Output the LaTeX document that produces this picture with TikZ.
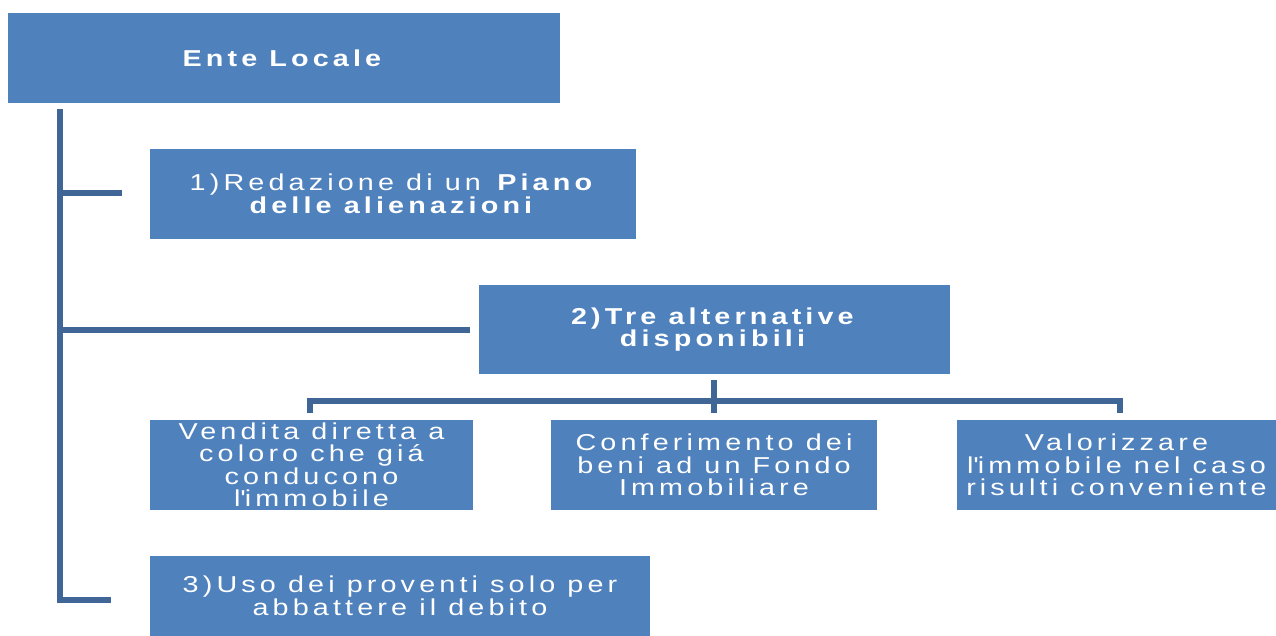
\documentclass[tikz,border=0pt]{standalone}
\usepackage{fontspec}
\setmainfont{Liberation Sans}[LetterSpace=18,FakeStretch=1.25]
\definecolor{boxblue}{HTML}{4F81BD}
\definecolor{linedark}{HTML}{3F6696}
\definecolor{lineshadow}{HTML}{A3B5CF}
\begin{document}
\begin{tikzpicture}[x=1pt,y=-1pt,
  box/.style={fill=boxblue,text=white,align=center,inner sep=0pt,
    font=\fontsize{23}{22.5}\selectfont},
  conn/.style={draw=linedark,line width=6pt},
  connsh/.style={draw=lineshadow,line width=6pt,shift={(2.5pt,-2.5pt)}}]
\useasboundingbox (0,0) rectangle (1276,636);
% boxes
\node[box,minimum width=552pt,minimum height=90pt] (ente) at (284,58) {\textbf{Ente Locale}};
\node[box,minimum width=486pt,minimum height=90pt] (b1) at (393,194) {1)Redazione di un \textbf{Piano}\\\textbf{delle alienazioni}};
\node[box,minimum width=471pt,minimum height=89pt] (b2) at (714.5,329.5) {\textbf{2)Tre alternative}\\\textbf{disponibili}};
\node[box,minimum width=323pt,minimum height=90pt] (sa) at (311.5,465) {Vendita diretta a\\coloro che giá\\conducono\\l\textquotesingle immobile};
\node[box,minimum width=326pt,minimum height=90pt] (sb) at (714,465) {Conferimento dei\\beni ad un Fondo\\Immobiliare};
\node[box,minimum width=319pt,minimum height=90pt] (sc) at (1116.5,465) {Valorizzare\\l\textquotesingle immobile nel caso\\risulti conveniente};
\node[box,minimum width=500pt,minimum height=80pt] (b3) at (400,596) {3)Uso dei proventi solo per\\abbattere il debito};
% connector end points
\coordinate (ttop) at (60,109);
\coordinate (e1) at (122,193);
\coordinate (e2) at (470,330);
\coordinate (e3) at (111,600);
\coordinate (d0) at (714,380);
\coordinate (bar) at (714,401);
\coordinate (dl) at (310,413);
\coordinate (dm) at (714,413);
\coordinate (dr) at (1120,413);
% shadows
\begin{scope}[every path/.style={connsh}]
\draw (ttop) |- (e3);
\draw (ttop |- e1) -- (e1);
\draw (ttop |- e2) -- (e2);
\draw (d0) -- (dm);
\draw (dl) |- (bar) -| (dr);
\end{scope}
% lines
\begin{scope}[every path/.style={conn}]
\draw (ttop) |- (e3);
\draw (ttop |- e1) -- (e1);
\draw (ttop |- e2) -- (e2);
\draw (d0) -- (dm);
\draw (dl) |- (bar) -| (dr);
\end{scope}
\end{tikzpicture}
\end{document}
